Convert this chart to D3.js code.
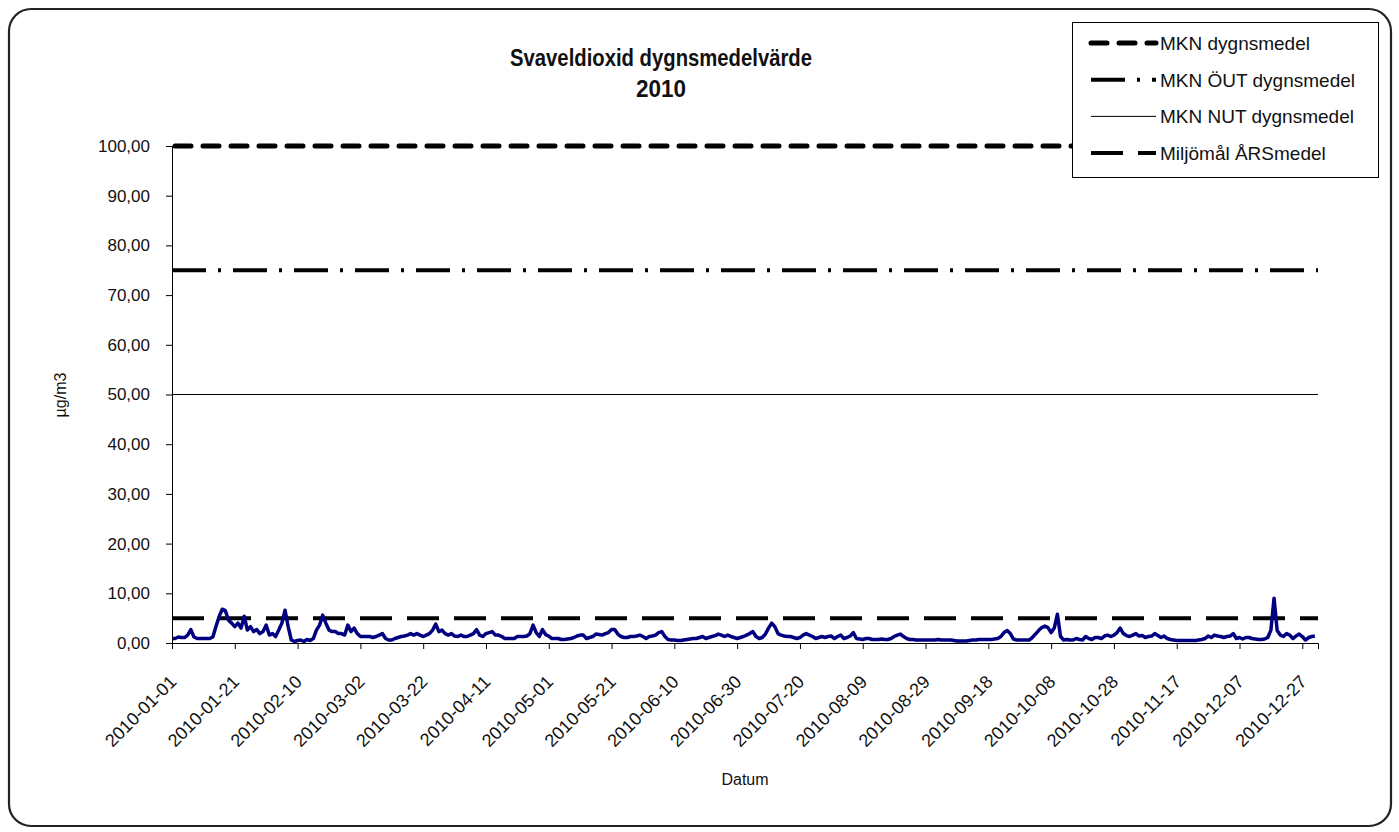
<!DOCTYPE html>
<html>
<head>
<meta charset="utf-8">
<script src="https://cdn.jsdelivr.net/npm/d3@7"></script>
<style>
  body { margin: 0; background: #fff; }
  svg { display: block; font-family: 'Liberation Sans', Arial, sans-serif; }
</style>
</head>
<body>
<div id="chart"></div>
<script>
const START_DATE = '2010-01-01'
const END_DATE = '2011-01-01'

// dygnsmedel SO2, en punkt per dag från 2010-01-01
const VALUES = [
  0.9, 0.9, 1.2, 1.1, 1.1, 1.6, 2.7, 1.2, 0.9, 0.9, 0.9, 0.9, 0.9, 1.2, 3.3, 5.3, 6.8, 6.5, 4.6, 4.0,
  3.3, 4.0, 3.0, 5.4, 2.6, 3.3, 2.3, 2.7, 1.9, 2.3, 3.6, 1.6, 1.9, 1.3, 2.6, 4.0, 6.6, 3.3, 0.6, 0.3,
  0.5, 0.6, 0.3, 0.7, 0.5, 0.9, 2.6, 3.6, 5.6, 4.0, 2.6, 2.3, 2.3, 1.9, 1.9, 1.6, 3.6, 2.3, 3.0, 1.9,
  1.3, 1.3, 1.3, 1.3, 1.1, 1.3, 1.6, 1.9, 0.9, 0.6, 0.6, 0.9, 1.1, 1.3, 1.4, 1.6, 1.9, 1.6, 1.9, 1.6,
  1.3, 1.6, 1.9, 2.6, 3.8, 2.3, 2.6, 1.9, 1.6, 1.9, 1.4, 1.3, 1.6, 1.3, 1.3, 1.6, 1.9, 2.7, 1.6, 1.3,
  1.9, 2.1, 2.3, 1.6, 1.6, 1.3, 0.9, 0.9, 0.9, 0.9, 1.3, 1.3, 1.3, 1.4, 1.9, 3.6, 2.1, 1.3, 2.7, 1.7,
  1.4, 0.9, 0.9, 0.9, 0.7, 0.7, 0.8, 0.9, 1.1, 1.4, 1.6, 1.6, 0.9, 1.1, 1.3, 1.8, 1.7, 1.6, 1.9, 2.1,
  2.7, 2.7, 1.8, 1.3, 1.1, 1.1, 1.3, 1.3, 1.4, 1.6, 1.3, 0.9, 1.3, 1.4, 1.6, 2.1, 2.3, 1.3, 0.7, 0.6,
  0.6, 0.5, 0.5, 0.6, 0.7, 0.8, 0.9, 0.9, 1.1, 1.3, 0.9, 1.1, 1.3, 1.5, 1.8, 1.6, 1.3, 1.6, 1.3, 1.1,
  0.9, 1.1, 1.3, 1.6, 1.9, 2.3, 1.3, 0.9, 1.1, 1.8, 3.0, 4.0, 3.3, 1.9, 1.6, 1.4, 1.3, 1.3, 1.1, 0.9,
  1.1, 1.6, 1.9, 1.6, 1.3, 0.9, 1.1, 1.3, 1.1, 1.3, 1.4, 0.9, 1.3, 1.6, 0.9, 1.1, 1.4, 2.1, 0.9, 0.8,
  0.7, 0.9, 0.9, 0.7, 0.7, 0.7, 0.8, 0.7, 0.7, 0.9, 1.3, 1.6, 1.8, 1.3, 0.9, 0.7, 0.7, 0.6, 0.6, 0.6,
  0.6, 0.6, 0.6, 0.6, 0.7, 0.6, 0.6, 0.6, 0.6, 0.5, 0.4, 0.4, 0.4, 0.4, 0.5, 0.6, 0.6, 0.7, 0.7, 0.7,
  0.7, 0.7, 0.8, 0.9, 1.3, 2.1, 2.5, 1.9, 0.8, 0.6, 0.6, 0.6, 0.6, 0.6, 1.1, 1.8, 2.5, 3.1, 3.4, 3.1,
  2.1, 3.0, 5.8, 1.3, 0.6, 0.7, 0.6, 0.6, 0.9, 0.7, 0.6, 1.3, 0.9, 0.7, 1.1, 1.1, 0.9, 1.4, 1.6, 1.3,
  1.6, 2.1, 3.0, 1.9, 1.5, 1.3, 1.6, 1.9, 1.4, 1.5, 1.1, 1.3, 1.4, 1.9, 1.5, 1.1, 1.4, 0.9, 0.7, 0.6,
  0.5, 0.5, 0.5, 0.5, 0.5, 0.5, 0.5, 0.6, 0.7, 0.9, 1.4, 1.1, 1.6, 1.4, 1.3, 1.1, 1.3, 1.4, 1.9, 0.9,
  1.1, 0.8, 1.1, 1.1, 0.9, 0.8, 0.7, 0.7, 0.8, 1.1, 2.6, 9.0, 2.5, 1.6, 1.3, 1.9, 1.6, 0.9, 1.4, 1.8,
  1.3, 0.6, 1.1, 1.3, 1.4
]

const LIMIT_NAMES = ['MKN dygnsmedel', 'MKN ÖUT dygnsmedel', 'MKN NUT dygnsmedel', 'Miljömål ÅRSmedel']
const LIMIT_VALUES = [100, 75, 50, 5]

const Y_TICKS = [0, 10, 20, 30, 40, 50, 60, 70, 80, 90, 100]
const X_TICK_LABELS = [
  '2010-01-01', '2010-01-21', '2010-02-10', '2010-03-02', '2010-03-22', '2010-04-11', '2010-05-01',
  '2010-05-21', '2010-06-10', '2010-06-30', '2010-07-20', '2010-08-09', '2010-08-29', '2010-09-18',
  '2010-10-08', '2010-10-28', '2010-11-17', '2010-12-07', '2010-12-27'
]

const LIMIT_STYLES = [
  { width: 5, dash: '16,12', cap: 'round' },
  { width: 4, dash: '34,12,3,12', cap: 'butt' },
  { width: 1, dash: null, cap: 'butt' },
  { width: 4, dash: '32,15', cap: 'butt' }
]

const W = 1399
const H = 832
const M = { top: 146, right: 81, bottom: 189, left: 172 }

const parse = d3.utcParse('%Y-%m-%d')
const dates = VALUES.map((v, i) => d3.utcDay.offset(parse(START_DATE), i))

const svg = d3.select('#chart').append('svg')
  .attr('width', W)
  .attr('height', H)

svg.append('rect') // ram runt diagrammet
  .attr('x', 9).attr('y', 9)
  .attr('width', W - 17).attr('height', H - 15)
  .attr('rx', 22)
  .attr('fill', '#fff')
  .attr('stroke', '#222')
  .attr('stroke-width', 2.2)

const x = d3.scaleUtc()
  .domain([parse(START_DATE), parse(END_DATE)])
  .range([M.left, W - M.right])

const y = d3.scaleLinear()
  .domain([0, 100])
  .range([H - M.bottom, M.top])

// titel (smal fet stil som i Excel-originalet)
const title = svg.append('text')
  .attr('text-anchor', 'middle')
  .attr('font-weight', 'bold')
  .attr('font-size', 24)
  .attr('fill', '#111')
title.append('tspan').attr('x', 661).attr('y', 66)
  .attr('textLength', 302).attr('lengthAdjust', 'spacingAndGlyphs')
  .text('Svaveldioxid dygnsmedelvärde')
title.append('tspan').attr('x', 661).attr('y', 97)
  .attr('textLength', 50).attr('lengthAdjust', 'spacingAndGlyphs')
  .text('2010')

// gränsvärden
LIMIT_VALUES.forEach((v, i) => {
  svg.append('line')
    .attr('x1', x.range()[0] + (LIMIT_STYLES[i].cap === 'round' ? 3 : 0)).attr('x2', x.range()[1])
    .attr('y1', y(v)).attr('y2', y(v))
    .attr('stroke', '#000')
    .attr('stroke-width', LIMIT_STYLES[i].width)
    .attr('stroke-dasharray', LIMIT_STYLES[i].dash)
    .attr('stroke-linecap', LIMIT_STYLES[i].cap)
})

// mätserie
svg.append('path')
  .datum(VALUES)
  .attr('fill', 'none')
  .attr('stroke', '#000080')
  .attr('stroke-width', 3.5)
  .attr('stroke-linejoin', 'round')
  .attr('d', d3.line().x((d, i) => x(dates[i])).y(d => y(d)))

// axlar
const yAxis = svg.append('g')
  .attr('transform', `translate(${M.left},0)`)
  .call(d3.axisLeft(y).tickValues(Y_TICKS).tickSize(6).tickPadding(16)
    .tickFormat(d => d3.format('.2f')(d).replace('.', ',')))
yAxis.select('.domain').attr('stroke', '#000')
yAxis.selectAll('text').attr('font-size', 17).attr('fill', '#111').attr('font-family', null)

const tickDates = X_TICK_LABELS.map(parse)
const xAxis = svg.append('g')
  .attr('transform', `translate(0,${H - M.bottom})`)
  .call(d3.axisBottom(x).tickValues(tickDates).tickSize(6).tickFormat((d, i) => X_TICK_LABELS[i]))
xAxis.select('.domain').attr('stroke', '#000')
xAxis.selectAll('text')
  .attr('font-size', 18)
  .attr('font-family', null)
  .attr('fill', '#111')
  .attr('text-anchor', 'end')
  .attr('y', 0)
  .attr('dy', null)
  .attr('transform', 'translate(5,40) rotate(-45)')

svg.append('text')
  .attr('x', 745).attr('y', 785)
  .attr('text-anchor', 'middle')
  .attr('font-size', 16)
  .attr('fill', '#111')
  .text('Datum')

svg.append('text')
  .attr('transform', 'translate(66,395) rotate(-90)')
  .attr('text-anchor', 'middle')
  .attr('font-size', 16)
  .attr('fill', '#111')
  .text('µg/m3')

// legend
const legend = svg.append('g')
legend.append('rect')
  .attr('x', 1072.5).attr('y', 22.5)
  .attr('width', 306).attr('height', 155)
  .attr('fill', '#fff')
  .attr('stroke', '#000')
  .attr('stroke-width', 1)

LIMIT_NAMES.forEach((name, i) => {
  const ly = 43 + i * 36.7
  legend.append('line')
    .attr('x1', 1091).attr('x2', 1156)
    .attr('y1', ly).attr('y2', ly)
    .attr('stroke', '#000')
    .attr('stroke-width', LIMIT_STYLES[i].width)
    .attr('stroke-dasharray', LIMIT_STYLES[i].dash)
    .attr('stroke-linecap', LIMIT_STYLES[i].cap)
  legend.append('text')
    .attr('x', 1160).attr('y', ly + 7)
    .attr('font-size', 19)
    .attr('fill', '#111')
    .text(name)
})
</script>
</body>
</html>
